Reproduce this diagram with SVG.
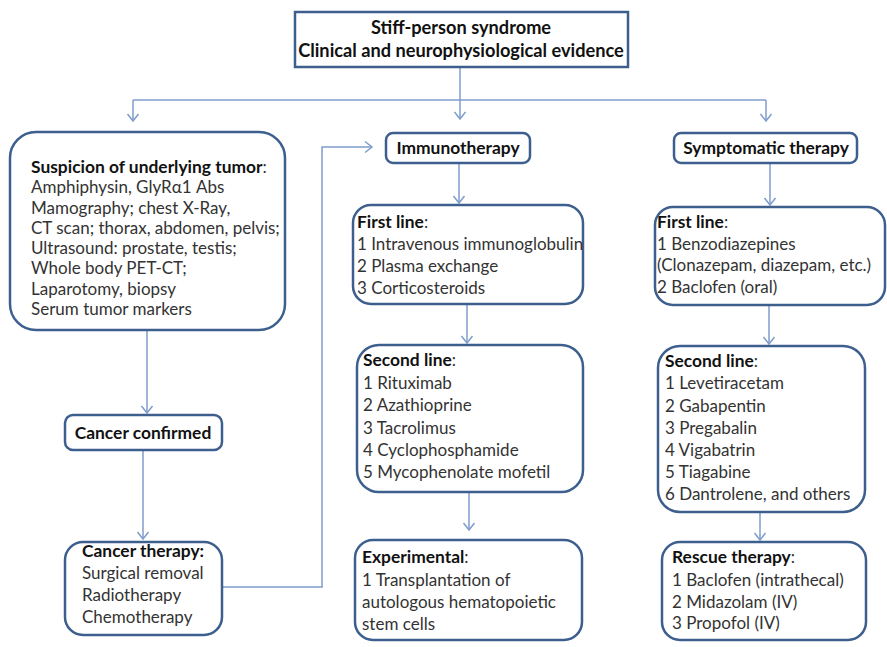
<svg xmlns="http://www.w3.org/2000/svg" width="887" height="647" viewBox="0 0 887 647">
<defs>
<marker id="arr" markerUnits="userSpaceOnUse" markerWidth="16" markerHeight="16" viewBox="-9 -8 10 16" refX="0" refY="0" orient="auto">
<path d="M-7,-5.5 L0,0 L-7,5.5" fill="none" stroke="#7f9dcc" stroke-width="1.5"/>
</marker>
</defs>
<style>
.box{fill:#fff;stroke:#3d5f8e;stroke-width:2.5}
.con{fill:none;stroke:#7f9dcc;stroke-width:1.5}
text{font-family:Lato,"Liberation Sans",sans-serif;font-size:17px;fill:#333}
.b{font-weight:bold;fill:#111;font-size:17.4px}
.t{font-size:18.2px}
.c{text-anchor:middle}
</style>
<rect width="887" height="647" fill="#fff"/>
<g id="connectors">
<path class="con" d="M460,67 V119" marker-end="url(#arr)"/>
<path class="con" d="M133,100 H766"/>
<path class="con" d="M133,100 V121" marker-end="url(#arr)"/>
<path class="con" d="M766,100 V121" marker-end="url(#arr)"/>
<path class="con" d="M147,330 V413" marker-end="url(#arr)"/>
<path class="con" d="M143,450 V539" marker-end="url(#arr)"/>
<path class="con" d="M222,587 H322 V147 H372" marker-end="url(#arr)"/>
<path class="con" d="M459,163 V203" marker-end="url(#arr)"/>
<path class="con" d="M467,304 V343" marker-end="url(#arr)"/>
<path class="con" d="M469,492 V530" marker-end="url(#arr)"/>
<path class="con" d="M770,163 V205" marker-end="url(#arr)"/>
<path class="con" d="M769,305 V344" marker-end="url(#arr)"/>
<path class="con" d="M760,512 V540" marker-end="url(#arr)"/>
</g>
<g id="top">
<rect class="box" x="295" y="12" width="333" height="55"/>
<text class="b c t" x="461" y="34">Stiff-person syndrome</text>
<text class="b c t" x="461" y="57">Clinical and neurophysiological evidence</text>
</g>
<g id="suspicion">
<rect class="box" x="10" y="132" width="275" height="198" rx="26"/>
<text x="31" y="173"><tspan class="b">Suspicion of underlying tumor</tspan>:</text>
<text x="31" y="193.3">Amphiphysin, GlyRα1 Abs</text>
<text x="31" y="213.6">Mamography; chest X-Ray,</text>
<text x="31" y="233.9">CT scan; thorax, abdomen, pelvis;</text>
<text x="31" y="254.1">Ultrasound: prostate, testis;</text>
<text x="31" y="274.4">Whole body PET-CT;</text>
<text x="31" y="294.7">Laparotomy, biopsy</text>
<text x="31" y="315">Serum tumor markers</text>
</g>
<g id="cancer-confirmed">
<rect class="box" x="65" y="415" width="157" height="35" rx="8"/>
<text class="b c" x="143" y="439">Cancer confirmed</text>
</g>
<g id="cancer-therapy">
<rect class="box" x="65" y="542" width="157" height="93" rx="18"/>
<text class="b" x="82" y="557">Cancer therapy:</text>
<text x="82" y="579">Surgical removal</text>
<text x="82" y="601">Radiotherapy</text>
<text x="82" y="623">Chemotherapy</text>
</g>
<g id="immunotherapy">
<rect class="box" x="386" y="133" width="144" height="30" rx="7"/>
<text class="b c" x="458" y="154">Immunotherapy</text>
</g>
<g id="immuno-first">
<rect class="box" x="353" y="205" width="230" height="99" rx="18"/>
<text x="357" y="228"><tspan class="b">First line</tspan>:</text>
<text x="357" y="250">1 Intravenous immunoglobulin</text>
<text x="357" y="272">2 Plasma exchange</text>
<text x="357" y="294">3 Corticosteroids</text>
</g>
<g id="immuno-second">
<rect class="box" x="357" y="345" width="226" height="147" rx="22"/>
<text x="363" y="366"><tspan class="b">Second line</tspan>:</text>
<text x="363" y="388.5">1 Rituximab</text>
<text x="363" y="411">2 Azathioprine</text>
<text x="363" y="433.5">3 Tacrolimus</text>
<text x="363" y="456">4 Cyclophosphamide</text>
<text x="363" y="478">5 Mycophenolate mofetil</text>
</g>
<g id="experimental">
<rect class="box" x="355" y="540" width="227" height="100" rx="18"/>
<text x="362" y="563"><tspan class="b">Experimental</tspan>:</text>
<text x="362" y="586">1 Transplantation of</text>
<text x="362" y="608">autologous hematopoietic</text>
<text x="362" y="630">stem cells</text>
</g>
<g id="symptomatic">
<rect class="box" x="674" y="133" width="183" height="30" rx="7"/>
<text class="b c" x="766" y="154">Symptomatic therapy</text>
</g>
<g id="symp-first">
<rect class="box" x="655" y="207" width="230" height="98" rx="18"/>
<text x="657" y="228"><tspan class="b">First line</tspan>:</text>
<text x="657" y="250">1 Benzodiazepines</text>
<text x="657" y="271">(Clonazepam, diazepam, etc.)</text>
<text x="657" y="293">2 Baclofen (oral)</text>
</g>
<g id="symp-second">
<rect class="box" x="658" y="346" width="207" height="166" rx="22"/>
<text x="665" y="367"><tspan class="b">Second line</tspan>:</text>
<text x="665" y="389">1 Levetiracetam</text>
<text x="665" y="412">2 Gabapentin</text>
<text x="665" y="434">3 Pregabalin</text>
<text x="665" y="456">4 Vigabatrin</text>
<text x="665" y="478">5 Tiagabine</text>
<text x="665" y="500">6 Dantrolene, and others</text>
</g>
<g id="rescue">
<rect class="box" x="662" y="542" width="204" height="98" rx="18"/>
<text x="672" y="563"><tspan class="b">Rescue therapy</tspan>:</text>
<text x="672" y="586">1 Baclofen (intrathecal)</text>
<text x="672" y="608">2 Midazolam (IV)</text>
<text x="672" y="629">3 Propofol (IV)</text>
</g>
</svg>
